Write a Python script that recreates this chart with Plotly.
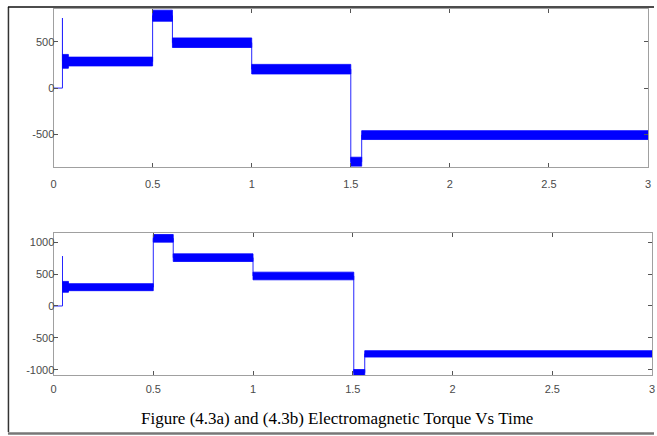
import plotly.graph_objects as go

W, H = 657, 436

# ---- data ----
# panel (a): top
a_start  = [0.0, 0.045, 0.075, 0.5, 0.6, 1.0, 1.5, 1.555]
a_end    = [0.045, 0.075, 0.5, 0.6, 1.0, 1.5, 1.555, 3.0]
a_level  = [0, 290, 288, 785, 492, 205, -800, -510]
a_ripple = [0, 75, 48, 60, 52, 52, 50, 48]
a_spike_t, a_spike_v = 0.045, 760

# panel (b): bottom
b_start  = [0.0, 0.045, 0.075, 0.5, 0.6, 1.0, 1.505, 1.56]
b_end    = [0.045, 0.075, 0.5, 0.6, 1.0, 1.505, 1.56, 3.0]
b_level  = [0, 300, 295, 1060, 757, 470, -1045, -750]
b_ripple = [0, 85, 55, 60, 60, 60, 50, 50]
b_spike_t, b_spike_v = 0.045, 780

x_tickvals = [0, 0.5, 1, 1.5, 2, 2.5, 3]
x_ticktext = ["0", "0.5", "1", "1.5", "2", "2.5", "3"]
a_ytick = [-500, 0, 500]
b_ytick = [-1000, -500, 0, 500, 1000]
caption = "Figure (4.3a) and (4.3b) Electromagnetic Torque Vs Time"

BLUE = "#0000ff"


def step_line(starts, ends, levels, spike_t, spike_v):
    xs, ys = [], []
    for s, e, l in zip(starts, ends, levels):
        xs += [s, e]
        ys += [l, l]
        if e == spike_t:
            xs.append(spike_t)
            ys.append(spike_v)
    return xs, ys


def band(starts, ends, levels, ripples):
    xs, ys = [], []
    for s, e, l, r in zip(starts, ends, levels, ripples):
        if r <= 0:
            continue
        xs += [s, e, e, s, s, None]
        ys += [l + r, l + r, l - r, l - r, l + r, None]
    return xs, ys


fig = go.Figure()
for (st, en, lv, rp, sp_t, sp_v, xa, ya) in [
    (a_start, a_end, a_level, a_ripple, a_spike_t, a_spike_v, "x", "y"),
    (b_start, b_end, b_level, b_ripple, b_spike_t, b_spike_v, "x2", "y2"),
]:
    lx, ly = step_line(st, en, lv, sp_t, sp_v)
    fig.add_trace(go.Scatter(x=lx, y=ly, mode="lines",
                             line=dict(color="#2626ff", width=1),
                             xaxis=xa, yaxis=ya, showlegend=False))
    bx, by = band(st, en, lv, rp)
    fig.add_trace(go.Scatter(x=bx, y=by, mode="lines", fill="toself",
                             fillcolor=BLUE, line=dict(color=BLUE, width=0.8),
                             xaxis=xa, yaxis=ya, showlegend=False, hoverinfo="skip"))

tickfont = dict(family="Liberation Sans, Arial, sans-serif", size=11, color="#4a4a4a")
axis_common = dict(showline=True, linecolor="#a0a0a0", linewidth=1, mirror="ticks",
                   ticks="inside", ticklen=4, tickcolor="#555555", tickwidth=1,
                   showgrid=False, zeroline=False, tickfont=tickfont)

fig.update_layout(
    width=W, height=H, margin=dict(l=0, r=0, t=0, b=0),
    paper_bgcolor="white", plot_bgcolor="white",
    xaxis=dict(domain=[51 / W, 651 / W], anchor="y", range=[0, 3],
               tickvals=x_tickvals, ticktext=x_ticktext, ticklabelstandoff=7, **axis_common),
    yaxis=dict(domain=[1 - 167 / H, 1 - 9 / H], anchor="x", range=[-852, 858],
               tickvals=a_ytick, ticktext=[str(v) for v in a_ytick],
               ticklabelstandoff=-4, **axis_common),
    xaxis2=dict(domain=[51 / W, 655 / W], anchor="y2", range=[0, 3],
                tickvals=x_tickvals, ticktext=x_ticktext, ticklabelstandoff=4, **axis_common),
    yaxis2=dict(domain=[1 - 376 / H, 1 - 234 / H], anchor="x2", range=[-1083, 1136],
                tickvals=b_ytick, ticktext=[str(v) for v in b_ytick],
                ticklabelstandoff=-4, **axis_common),
    shapes=[
        dict(type="line", xref="paper", yref="paper", x0=5.5 / W, x1=5.5 / W,
             y0=1 - 433 / H, y1=1 - 7 / H, line=dict(color="#333333", width=1.5)),
        dict(type="line", xref="paper", yref="paper", x0=5 / W, x1=1,
             y0=1 - 7 / H, y1=1 - 7 / H, line=dict(color="#111111", width=1.5)),
        dict(type="line", xref="paper", yref="paper", x0=5 / W, x1=1,
             y0=1 - 434.5 / H, y1=1 - 434.5 / H, line=dict(color="#777777", width=2.5)),
    ],
    annotations=[
        dict(text=caption, xref="paper", yref="paper", x=337 / W, y=1 - 419 / H,
             xanchor="center", yanchor="middle", showarrow=False,
             font=dict(family="Liberation Serif, Times New Roman, serif", size=17, color="#000000")),
    ],
)

fig.write_html("out.html", config={"displayModeBar": False},
               post_script="document.body.style.margin='0px';document.body.style.padding='0px';")
